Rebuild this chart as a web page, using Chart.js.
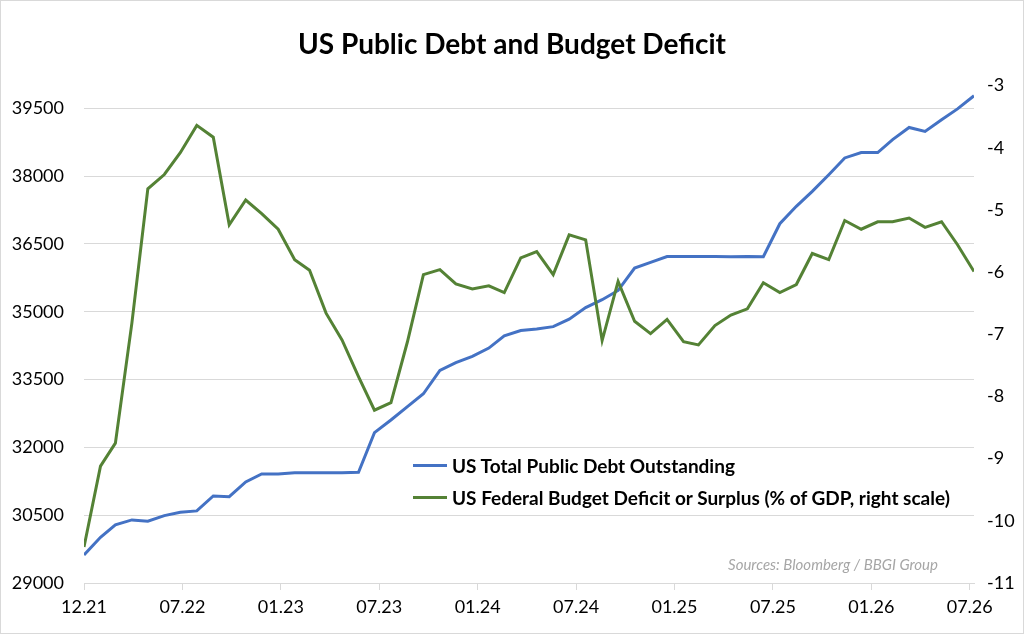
<!DOCTYPE html>
<html>
<head>
<meta charset="utf-8">
<title>US Public Debt and Budget Deficit</title>
<script src="https://cdn.jsdelivr.net/npm/chart.js@4.4.1/dist/chart.umd.min.js"></script>
<style>
  html, body { margin: 0; padding: 0; background: #fff; }
  #wrap { position: relative; width: 1024px; height: 634px; font-family: Lato, "Open Sans", sans-serif; }
  #popChart { position: absolute; left: 0; top: 0; }
  #frame { position: absolute; left: 0; top: 0; width: 1024px; height: 634px; box-sizing: border-box; border: 1px solid #d9d9d9; pointer-events: none; }
  #legend { position: absolute; left: 413px; top: 449px; }
  .leg_row { display: flex; align-items: center; height: 32px; font-weight: bold; font-size: 19px; color: #000; }
  .leg_line { width: 34px; height: 3px; margin-right: 5px; }
  #source { position: absolute; right: 86px; top: 555px; font-style: italic; font-size: 15px; color: #a6a6a6; }
</style>
</head>
<body>
<div id="wrap">
  <canvas id="popChart" width="1024" height="634"></canvas>
  <div id="legend"></div>
  <div id="source">Sources: Bloomberg / BBGI Group</div>
  <div id="frame"></div>
</div>
<script>
// month-end observations, Dec 2021 .. Jul 2026
const months = [
  '2021-12',
  '2022-01','2022-02','2022-03','2022-04','2022-05','2022-06','2022-07','2022-08','2022-09','2022-10','2022-11','2022-12',
  '2023-01','2023-02','2023-03','2023-04','2023-05','2023-06','2023-07','2023-08','2023-09','2023-10','2023-11','2023-12',
  '2024-01','2024-02','2024-03','2024-04','2024-05','2024-06','2024-07','2024-08','2024-09','2024-10','2024-11','2024-12',
  '2025-01','2025-02','2025-03','2025-04','2025-05','2025-06','2025-07','2025-08','2025-09','2025-10','2025-11','2025-12',
  '2026-01','2026-02','2026-03','2026-04','2026-05','2026-06','2026-07'
]

// US Total Public Debt Outstanding (bn USD, left scale)
const debt = [
  29620,
  30010, 30285, 30395, 30365, 30490, 30565, 30595, 30925, 30910, 31235, 31410, 31410,
  31440, 31440, 31440, 31440, 31450, 32325, 32605, 32900, 33185, 33700, 33875, 34010,
  34195, 34465, 34585, 34615, 34670, 34835, 35090, 35265, 35470, 35965, 36090, 36220,
  36220, 36220, 36220, 36215, 36220, 36215, 36945, 37330, 37660, 38030, 38400, 38520,
  38520, 38805, 39075, 38985, 39245, 39485, 39775
]

// US Federal Budget Deficit or Surplus (% of GDP, right scale)
const deficit = [
  -10.42,
  -9.12, -8.75, -6.82, -4.66, -4.43, -4.08, -3.64, -3.83, -5.24, -4.84, -5.06, -5.31,
  -5.80, -5.97, -6.66, -7.09, -7.68, -8.22, -8.10, -7.12, -6.04, -5.96, -6.19, -6.27,
  -6.22, -6.33, -5.77, -5.67, -6.04, -5.40, -5.48, -7.10, -6.15, -6.79, -6.99, -6.76,
  -7.12, -7.17, -6.86, -6.69, -6.59, -6.17, -6.33, -6.20, -5.70, -5.80, -5.17, -5.31,
  -5.19, -5.19, -5.13, -5.28, -5.19, -5.56, -5.99
]

const xTickLabels = ['12.21','07.22','01.23','07.23','01.24','07.24','01.25','07.25','01.26','07.26']
const xTickStepDays = 185
const leftTicks = [29000, 30500, 32000, 33500, 35000, 36500, 38000, 39500]

const seriesNames = ['US Total Public Debt Outstanding', 'US Federal Budget Deficit or Surplus (% of GDP, right scale)']
const colors = ['#4472C4', '#548235']

function monthEnd(s){
  let [y, m] = s.split('-').map(Number)
  return Date.UTC(y, m, 0)
}

const day0 = monthEnd(months[0])
let days = months.map(m => Math.round((monthEnd(m) - day0) / 86400000))

let debtPoints = days.map((d, i) => ({x: d, y: debt[i]}))
let deficitPoints = days.map((d, i) => ({x: d, y: deficit[i]}))

const tickFont = {family: 'Lato, "Open Sans", sans-serif', size: 18}

const config = {
  type: 'line',
  data: {
    datasets: [
      {
        label: seriesNames[0],
        data: debtPoints,
        yAxisID: 'y',
        borderColor: colors[0],
        borderWidth: 3,
        pointRadius: 0,
        tension: 0,
        order: 1
      },
      {
        label: seriesNames[1],
        data: deficitPoints,
        yAxisID: 'y1',
        borderColor: colors[1],
        borderWidth: 3,
        pointRadius: 0,
        tension: 0,
        order: 0
      }
    ]
  },
  options: {
    responsive: false,
    animation: false,
    layout: {padding: 0},
    plugins: {
      legend: {display: false},
      tooltip: {enabled: false},
      title: {
        display: true,
        text: 'US Public Debt and Budget Deficit',
        color: '#000',
        font: {family: 'Lato, "Open Sans", sans-serif', size: 28, weight: 'bold'},
        padding: {top: 28, bottom: 24}
      }
    },
    scales: {
      x: {
        type: 'linear',
        position: 'bottom',
        min: 0,
        max: days[days.length - 1],
        afterBuildTicks: (axis) => {
          axis.ticks = xTickLabels.map((l, k) => ({value: k * xTickStepDays}))
        },
        afterFit: (scale) => { scale.height = 51 },
        ticks: {
          autoSkip: false,
          maxRotation: 0,
          color: '#000',
          font: tickFont,
          padding: 6,
          callback: (v, i) => xTickLabels[i]
        },
        grid: {
          drawOnChartArea: false,
          drawTicks: true,
          tickLength: 7,
          color: '#d9d9d9'
        },
        border: {display: true, color: '#d9d9d9'}
      },
      y: {
        position: 'left',
        min: 29000,
        max: 40000,
        afterBuildTicks: (axis) => {
          axis.ticks = leftTicks.map(v => ({value: v}))
        },
        afterFit: (scale) => { scale.width = 84 },
        ticks: {
          color: '#000',
          font: tickFont,
          padding: 20,
          callback: (v) => String(v)
        },
        grid: {color: '#d9d9d9', drawTicks: false},
        border: {display: false}
      },
      y1: {
        position: 'right',
        min: -11,
        max: -3,
        afterFit: (scale) => { scale.width = 50 },
        ticks: {
          stepSize: 1,
          color: '#000',
          font: tickFont,
          padding: 13
        },
        grid: {drawOnChartArea: false, drawTicks: false},
        border: {display: false}
      }
    }
  }
}

new Chart(document.getElementById('popChart').getContext('2d'), config)

// legend inside the plot area
let legend = document.getElementById('legend')
seriesNames.forEach((name, k) => {
  let row = document.createElement('div')
  row.className = 'leg_row'
  let line = document.createElement('span')
  line.className = 'leg_line'
  line.style.background = colors[k]
  let txt = document.createElement('span')
  txt.textContent = name
  row.appendChild(line)
  row.appendChild(txt)
  legend.appendChild(row)
})
</script>
</body>
</html>
